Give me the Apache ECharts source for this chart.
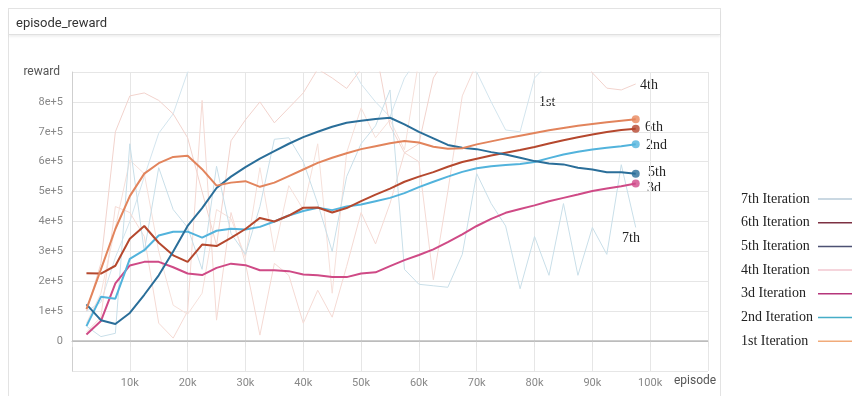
<!DOCTYPE html>
<html>
<head>
<meta charset="utf-8">
<script src="https://cdn.jsdelivr.net/npm/echarts@6/dist/echarts.min.js"></script>
<style>
  html, body { margin: 0; padding: 0; background: #fff; }
  #card { position: absolute; left: 8px; top: 8px; width: 711px; height: 400px; border: 1px solid #e3e3e3; background: #fff; }
  #head { position: absolute; left: 9px; top: 9px; width: 711px; height: 25px; border-bottom: 1px solid #e0e0e0; box-shadow: 0 2px 2px rgba(0,0,0,0.06); }
  #chart { position: absolute; left: 0; top: 0; width: 852px; height: 396px; }
</style>
</head>
<body>
<div id="card"></div>
<div id="head"></div>
<div id="chart"></div>
<script>
// episodes (x) — one point every 2.5k
const episodes = [2500, 5000, 7500, 10000, 12500, 15000, 17500, 20000, 22500, 25000,
  27500, 30000, 32500, 35000, 37500, 40000, 42500, 45000, 47500, 50000,
  52500, 55000, 57500, 60000, 62500, 65000, 67500, 70000, 72500, 75000,
  77500, 80000, 82500, 85000, 87500, 90000, 92500, 95000, 97500];

// smoothed runs
const iter1 = [1.07e5, 2.4e5, 3.75e5, 4.85e5, 5.6e5, 5.95e5, 6.16e5, 6.2e5, 5.75e5, 5.2e5,
  5.3e5, 5.35e5, 5.16e5, 5.3e5, 5.52e5, 5.74e5, 5.96e5, 6.13e5, 6.28e5, 6.42e5,
  6.52e5, 6.62e5, 6.69e5, 6.64e5, 6.5e5, 6.43e5, 6.45e5, 6.58e5, 6.68e5, 6.78e5,
  6.87e5, 6.96e5, 7.05e5, 7.13e5, 7.2e5, 7.26e5, 7.32e5, 7.37e5, 7.42e5];
const iter6 = [2.27e5, 2.26e5, 2.52e5, 3.42e5, 3.85e5, 3.29e5, 2.87e5, 2.65e5, 3.23e5, 3.18e5,
  3.45e5, 3.75e5, 4.12e5, 4.0e5, 4.2e5, 4.46e5, 4.47e5, 4.3e5, 4.45e5, 4.68e5,
  4.9e5, 5.1e5, 5.33e5, 5.5e5, 5.65e5, 5.83e5, 5.99e5, 6.1e5, 6.21e5, 6.3e5,
  6.39e5, 6.49e5, 6.61e5, 6.72e5, 6.82e5, 6.91e5, 6.99e5, 7.06e5, 7.1e5];
const iter2 = [0.5e5, 1.48e5, 1.42e5, 2.75e5, 3.04e5, 3.53e5, 3.66e5, 3.66e5, 3.46e5, 3.69e5,
  3.76e5, 3.73e5, 3.82e5, 4.0e5, 4.2e5, 4.35e5, 4.46e5, 4.38e5, 4.5e5, 4.57e5,
  4.68e5, 4.79e5, 4.95e5, 5.15e5, 5.33e5, 5.5e5, 5.66e5, 5.78e5, 5.85e5, 5.89e5,
  5.92e5, 5.99e5, 6.12e5, 6.24e5, 6.33e5, 6.41e5, 6.47e5, 6.52e5, 6.58e5];
const iter5 = [1.23e5, 0.7e5, 0.57e5, 0.94e5, 1.55e5, 2.2e5, 3.0e5, 3.85e5, 4.45e5, 5.12e5,
  5.5e5, 5.82e5, 6.1e5, 6.35e5, 6.6e5, 6.82e5, 7.0e5, 7.17e5, 7.3e5, 7.37e5,
  7.43e5, 7.47e5, 7.25e5, 7.0e5, 6.78e5, 6.56e5, 6.47e5, 6.42e5, 6.32e5, 6.24e5,
  6.13e5, 6.02e5, 5.94e5, 5.91e5, 5.8e5, 5.74e5, 5.65e5, 5.65e5, 5.6e5];
const iter3 = [0.22e5, 0.67e5, 1.93e5, 2.53e5, 2.65e5, 2.65e5, 2.47e5, 2.26e5, 2.21e5, 2.45e5,
  2.59e5, 2.54e5, 2.37e5, 2.37e5, 2.34e5, 2.23e5, 2.2e5, 2.14e5, 2.14e5, 2.26e5,
  2.3e5, 2.51e5, 2.71e5, 2.88e5, 3.07e5, 3.31e5, 3.57e5, 3.85e5, 4.09e5, 4.29e5,
  4.42e5, 4.54e5, 4.68e5, 4.79e5, 4.9e5, 5.02e5, 5.1e5, 5.18e5, 5.27e5];

// faint raw runs
const iter4 = [1.0e5, 2.6e5, 7.0e5, 8.2e5, 8.3e5, 8.05e5, 7.6e5, 6.8e5, 5.0e5, 3.2e5,
  6.7e5, 7.4e5, 8.0e5, 7.3e5, 7.8e5, 8.3e5, 9.1e5, 8.8e5, 8.45e5, 9.1e5,
  9.8e5, 7.2e5, 6.3e5, 6.6e5, 8.8e5, 9.6e5, 9.8e5, 9.6e5, 9.4e5, 9.7e5,
  9.2e5, 9.5e5, 9.4e5, 9.6e5, 9.8e5, 8.97e5, 8.46e5, 8.4e5, 8.6e5];
const iter7 = [0.5e5, 0.15e5, 0.26e5, 6.6e5, 3.0e5, 5.8e5, 4.4e5, 3.8e5, 2.4e5, 5.85e5,
  3.6e5, 2.9e5, 4.5e5, 6.75e5, 6.8e5, 6.0e5, 4.6e5, 3.0e5, 5.5e5, 6.6e5,
  7.2e5, 8.4e5, 2.4e5, 1.9e5, 1.85e5, 1.8e5, 2.9e5, 5.6e5, 4.6e5, 3.85e5,
  1.75e5, 3.5e5, 2.2e5, 4.6e5, 2.2e5, 3.8e5, 2.9e5, 5.9e5, 3.8e5];
const rawPinkA = [0.3e5, 0.8e5, 4.5e5, 4.3e5, 3.5e5, 0.6e5, 0.1e5, 1.0e5, 8.05e5, 0.7e5,
  4.3e5, 2.6e5, 0.2e5, 2.6e5, 2.2e5, 0.6e5, 1.7e5, 0.8e5, 2.5e5, 4.3e5,
  3.25e5, 4.6e5, 6.3e5, 6.0e5, 2.05e5, 5.0e5, 8.2e5, 9.3e5, 9.5e5, 9.7e5,
  9.4e5, 9.6e5, 9.8e5, 9.5e5, 9.7e5, 9.6e5, 9.8e5, 9.5e5, 9.7e5];
const rawPinkC = [0.6e5, 1.6e5, 3.8e5, 6.05e5, 5.6e5, 3.0e5, 1.2e5, 0.9e5, 1.6e5, 4.4e5,
  4.1e5, 2.8e5, 5.8e5, 3.0e5, 5.2e5, 4.4e5, 6.6e5, 1.6e5, 6.3e5, 7.8e5,
  6.8e5, 7.4e5, 6.4e5, 9.4e5, 9.6e5, 9.5e5, 9.7e5, 9.6e5, 9.8e5, 9.5e5,
  9.7e5, 9.6e5, 9.5e5, 9.8e5, 9.6e5, 9.7e5, 9.5e5, 9.6e5, 9.8e5];
const rawBlueB = [1.0e5, 1.3e5, 2.8e5, 4.0e5, 5.5e5, 6.95e5, 7.6e5, 9.0e5, 9.6e5, 9.8e5,
  9.7e5, 9.5e5, 9.6e5, 9.4e5, 9.7e5, 9.5e5, 9.6e5, 9.4e5, 9.5e5, 8.6e5,
  8.0e5, 7.5e5, 8.8e5, 9.5e5, 9.8e5, 9.5e5, 9.3e5, 9.0e5, 8.0e5, 7.06e5,
  7.0e5, 8.8e5, 9.3e5, 9.5e5, 9.6e5, 9.3e5, 9.5e5, 9.7e5, 9.5e5];

const xTicks = [10000, 20000, 30000, 40000, 50000, 60000, 70000, 80000, 90000, 100000];
const yTicks = [0, 1e5, 2e5, 3e5, 4e5, 5e5, 6e5, 7e5, 8e5];

const legendNames = ['7th Iteration', '6th Iteration', '5th Iteration', '4th Iteration',
  '3d Iteration', '2nd Iteration', '1st Iteration'];
const legendColors = ['#b9cbd9', '#7d3142', '#4d5173', '#f2c7d0', '#b5357b', '#46adc7', '#f1ab7a'];

const pairs = ys => episodes.map((x, i) => [x, ys[i]]);
const last = ys => [episodes[episodes.length - 1], ys[ys.length - 1]];

const serif = "'Liberation Serif', 'Times New Roman', serif";
const sans = "Roboto, 'Open Sans', sans-serif";

function line(name, ys, color, width, z) {
  return {
    name, type: 'line', data: pairs(ys), symbol: 'none', z,
    lineStyle: {color, width}, itemStyle: {color},
    emphasis: {disabled: true}, animation: false
  };
}

const chart = echarts.init(document.getElementById('chart'));
chart.setOption({
  backgroundColor: 'transparent',
  animation: false,
  title: {
    text: 'episode_reward', left: 11, top: 12,
    textStyle: {fontFamily: sans, fontSize: 13, fontWeight: 'normal', color: '#333'}
  },
  grid: {left: 72, top: 72, right: 144, bottom: 25},
  xAxis: {
    type: 'value', min: 0, max: 110000, interval: 10000,
    axisLine: {lineStyle: {color: '#bdbdbd', width: 1}},
    axisTick: {show: true, length: 6, lineStyle: {color: '#e2e2e2'}},
    axisLabel: {
      fontFamily: sans, fontSize: 11, color: '#888', margin: 7,
      formatter: v => xTicks.includes(v) ? (v / 1000) + 'k' : ''
    },
    splitLine: {lineStyle: {color: '#e6e6e6', width: 1}}
  },
  yAxis: {
    type: 'value', min: -1e5, max: 9e5, interval: 1e5,
    name: 'reward', nameLocation: 'end', nameGap: 0, nameMoveOverlap: false,
    nameTextStyle: {fontFamily: sans, fontSize: 12, color: '#555', align: 'right', verticalAlign: 'middle', padding: [0, 12, 0, 0]},
    axisLine: {show: true, lineStyle: {color: '#cfcfcf', width: 1}},
    axisTick: {show: false},
    axisLabel: {
      fontFamily: sans, fontSize: 11, color: '#888', margin: 9,
      formatter: v => !yTicks.includes(v) ? '' : (v === 0 ? '0' : (v / 1e5) + 'e+5')
    },
    splitLine: {lineStyle: {color: '#e6e6e6', width: 1}}
  },
  legend: {
    orient: 'vertical', left: 736, top: 187, align: 'right',
    itemWidth: 40, itemHeight: 14, itemGap: 9.7,
    data: legendNames.map((n, i) => ({
      name: n,
      lineStyle: {color: legendColors[i], width: 1.5},
      itemStyle: {color: legendColors[i], opacity: 0, borderWidth: 0}
    })),
    formatter: n => '{t|' + n + '}',
    textStyle: {rich: {t: {fontFamily: serif, fontSize: 14, color: '#222', width: 72, lineHeight: 14, align: 'left'}}},
    selectedMode: false
  },
  series: [
    line('rawB', rawBlueB, '#d3e5ee', 1, 1),
    line('rawA', rawPinkA, '#f5dad4', 1, 1),
    line('rawC', rawPinkC, '#f6e0da', 1, 1),
    line('4th Iteration', iter4, '#f2d3cd', 1, 1),
    line('7th Iteration', iter7, '#c9dfe9', 1, 1),
    Object.assign(line('3d Iteration', iter3, '#cf4a86', 2, 3), {
      markLine: {
        silent: true, symbol: 'none', label: {show: false},
        lineStyle: {color: '#bcbcbc', width: 1.5, type: 'solid'},
        data: [{yAxis: 0}]
      }
    }),
    line('2nd Iteration', iter2, '#52b3dc', 2, 3),
    line('6th Iteration', iter6, '#b5482e', 2, 3),
    line('5th Iteration', iter5, '#2a6e99', 2, 3),
    line('1st Iteration', iter1, '#e2845c', 2, 3),
    {
      name: 'ends', type: 'scatter', symbolSize: 8, z: 4, animation: false,
      data: [
        {value: last(iter1), itemStyle: {color: '#e8875d'}},
        {value: last(iter6), itemStyle: {color: '#b5452d'}},
        {value: last(iter2), itemStyle: {color: '#52b4dd'}},
        {value: last(iter5), itemStyle: {color: '#2a6e99'}},
        {value: last(iter3), itemStyle: {color: '#d0498a'}}
      ]
    }
  ],
  graphic: [
    // x axis name, sits below-right of the axis end like the reference
    {type: 'text', left: 674, top: 375, style: {text: 'episode', font: '12px ' + sans, fill: '#555'}},
    {type: 'text', left: 640, top: 78, style: {text: '4th', font: '14px ' + serif, fill: '#222'}},
    {type: 'text', left: 539, top: 95, style: {text: '1st', font: '14px ' + serif, fill: '#222'}},
    {type: 'text', left: 645, top: 120, style: {text: '6th', font: '14px ' + serif, fill: '#222'}},
    {type: 'text', left: 646, top: 138, style: {text: '2nd', font: '14px ' + serif, fill: '#222'}},
    {type: 'text', left: 648, top: 165, style: {text: '5th', font: '14px ' + serif, fill: '#222'}},
    {type: 'text', left: 647, top: 181, style: {text: '3d', font: '14px ' + serif, fill: '#222'}},
    {type: 'text', left: 622, top: 231, style: {text: '7th', font: '14px ' + serif, fill: '#222'}}
  ]
});
</script>
</body>
</html>
